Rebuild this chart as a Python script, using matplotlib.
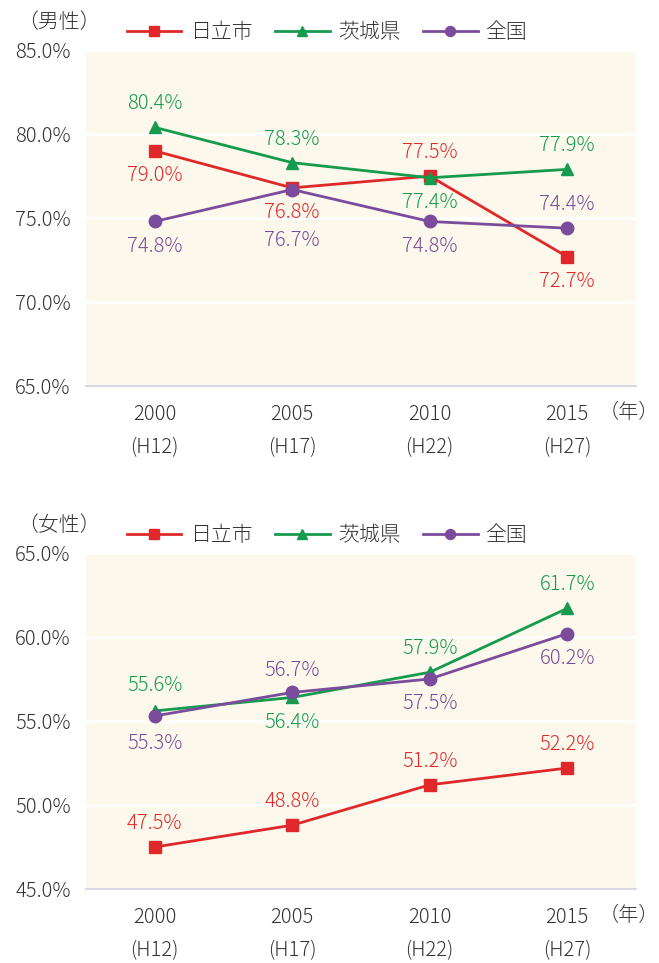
import matplotlib
matplotlib.use('Agg')
import matplotlib.pyplot as plt
from matplotlib.ticker import FuncFormatter

plt.rcParams['font.family'] = ['Noto Sans CJK JP', 'DejaVu Sans']
plt.rcParams['font.weight'] = 'light'

years = ['2000', '2005', '2010', '2015']
era = ['(H12)', '(H17)', '(H22)', '(H27)']
series_names = ['日立市', '茨城県', '全国']
colors = ['#E0282A', '#169A4E', '#7B4C9C']
markers = ['s', '^', 'o']

male_hitachi = [79.0, 76.8, 77.5, 72.7]
male_ibaraki = [80.4, 78.3, 77.4, 77.9]
male_japan = [74.8, 76.7, 74.8, 74.4]

female_hitachi = [47.5, 48.8, 51.2, 52.2]
female_ibaraki = [55.6, 56.4, 57.9, 61.7]
female_japan = [55.3, 56.7, 57.5, 60.2]

# label offset (points) for each value label: positive above, negative below
male_off = [[-18, -18, 17, -18], [17, 17, -18, 17], [-18, -37, -18, 17]]
female_off = [[17, 17, 17, 17], [18, -18, 17, 17], [-20, 16, -18, -18]]

fig = plt.figure(figsize=(6.59, 9.63), dpi=100)
ax1 = fig.add_axes([0.1305, 0.599, 0.8345, 0.349])
ax2 = fig.add_axes([0.1305, 0.0768, 0.8345, 0.349])

text_c = '#333333'


def draw(ax, data, offs, ylim, title):
    ax.set_facecolor('#FCF9EC')
    x = range(len(years))
    for vals, c, m, name, off in zip(data, colors, markers, series_names, offs):
        ax.plot(x, vals, color=c, marker=m, markersize=9, linewidth=2,
                label=name, zorder=3)
        for i, v in enumerate(vals):
            ax.annotate(f'{v:.1f}%', (i, v), xytext=(0, off[i]), textcoords='offset points',
                        ha='center', va='center', color=c, fontsize=14.5)
    ax.set_xlim(-0.5, 3.5)
    ax.set_ylim(*ylim)
    ax.set_yticks(range(ylim[0], ylim[1] + 1, 5))
    ax.yaxis.set_major_formatter(FuncFormatter(lambda v, p: f'{v:.1f}%'))
    ax.grid(axis='y', color='white', linewidth=2)
    ax.set_axisbelow(True)
    for s in ['top', 'right', 'left']:
        ax.spines[s].set_visible(False)
    ax.spines['bottom'].set_color('#DAD8E6')
    ax.spines['bottom'].set_linewidth(1.5)
    ax.set_xticks(list(x))
    ax.set_xticklabels([f'{a}\n{b}' for a, b in zip(years, era)], linespacing=1.75)
    ax.tick_params(axis='both', length=0, labelsize=14.5, colors=text_c)
    ax.tick_params(axis='x', pad=13)
    ax.tick_params(axis='y', pad=11)
    ax.text(1.042, -0.078, '（年）', transform=ax.transAxes, fontsize=14.5,
            color=text_c, ha='right', va='center')
    ax.text(-0.125, 1.083, title, transform=ax.transAxes, fontsize=15,
            color=text_c, ha='left', va='center')
    ax.legend(loc='lower left', bbox_to_anchor=(0.06, 0.995), ncol=3, frameon=False,
              fontsize=15, handlelength=2.6, columnspacing=1.1, handletextpad=0.4,
              labelcolor=text_c, borderaxespad=0, markerscale=0.8)


draw(ax1, [male_hitachi, male_ibaraki, male_japan], male_off, (65, 85), '（男性）')
draw(ax2, [female_hitachi, female_ibaraki, female_japan], female_off, (45, 65), '（女性）')

fig.savefig('out.png', dpi=100)
